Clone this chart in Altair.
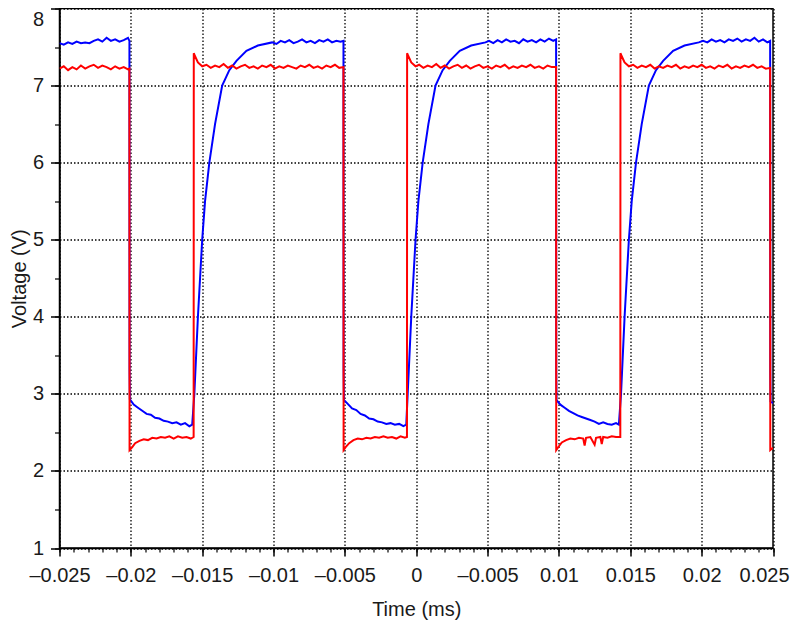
import json

import altair as alt
import pandas as pd

# ---- trace data ----
blue_t = [
    -0.025, -0.0247, -0.0244, -0.0241, -0.0238, -0.0235, -0.0232, -0.0229, -0.0226, -0.0223,
    -0.022, -0.0217, -0.0214, -0.0211, -0.0208, -0.0205, -0.0202, -0.0201,
    -0.02009, -0.02007, -0.0198, -0.0195, -0.0192, -0.0189, -0.0186, -0.0183, -0.018, -0.0177,
    -0.0174, -0.0171, -0.0168, -0.0165, -0.0162, -0.0159, -0.0157,
    -0.01555, -0.0153, -0.015, -0.0148, -0.0145, -0.0141, -0.0136, -0.0131, -0.0126, -0.0119,
    -0.0111, -0.0101, -0.0098, -0.0095, -0.0092, -0.0089, -0.0086, -0.0083, -0.008, -0.0077,
    -0.0074, -0.0071, -0.0068, -0.0065, -0.0062, -0.0059, -0.0056, -0.0053, -0.0051,
    -0.00509, -0.00507, -0.0048, -0.0045, -0.0042, -0.0039, -0.0036, -0.0033, -0.003, -0.0027,
    -0.0024, -0.0021, -0.0018, -0.0015, -0.0012, -0.0009, -0.0007,
    -0.0006, -0.00035, -0.00005, 0.00015, 0.00045, 0.00085, 0.00135, 0.00185, 0.00235, 0.00305,
    0.00385, 0.00485, 0.0051, 0.0054, 0.0057, 0.006, 0.0063, 0.0066, 0.0069, 0.0072, 0.0075,
    0.0078, 0.0081, 0.0084, 0.0087, 0.009, 0.0093, 0.0096, 0.0098,
    0.00981, 0.00983, 0.0101, 0.0104, 0.0107, 0.011, 0.0113, 0.0116, 0.0119, 0.0122, 0.0125,
    0.0128, 0.0131, 0.0134, 0.0137, 0.014, 0.0142,
    0.01435, 0.0146, 0.0149, 0.0151, 0.0154, 0.0158, 0.0163, 0.0168, 0.0173, 0.018, 0.0188,
    0.0198, 0.0201, 0.0204, 0.0207, 0.021, 0.0213, 0.0216, 0.0219, 0.0222, 0.0225, 0.0228,
    0.0231, 0.0234, 0.0237, 0.024, 0.0243, 0.0246, 0.0248,
    0.02481, 0.02483, 0.025,
]
blue_v = [
    7.55, 7.53, 7.56, 7.54, 7.57, 7.55, 7.56, 7.55, 7.58, 7.60,
    7.57, 7.62, 7.58, 7.60, 7.57, 7.59, 7.62, 7.58,
    3.30, 2.93, 2.86, 2.82, 2.78, 2.74, 2.73, 2.69, 2.68, 2.65,
    2.64, 2.62, 2.63, 2.60, 2.62, 2.58, 2.60,
    3.00, 4.00, 5.00, 5.50, 6.00, 6.50, 7.00, 7.20, 7.32, 7.45,
    7.52, 7.56, 7.54, 7.58, 7.56, 7.59, 7.55, 7.57, 7.60, 7.56,
    7.58, 7.55, 7.59, 7.57, 7.60, 7.56, 7.58, 7.57, 7.58,
    3.30, 2.92, 2.87, 2.81, 2.79, 2.74, 2.72, 2.68, 2.67, 2.64,
    2.63, 2.61, 2.62, 2.60, 2.61, 2.58, 2.60,
    3.00, 4.00, 5.00, 5.50, 6.00, 6.50, 7.00, 7.20, 7.32, 7.45,
    7.52, 7.56, 7.58, 7.55, 7.59, 7.56, 7.60, 7.57, 7.58, 7.55, 7.60,
    7.57, 7.59, 7.56, 7.60, 7.57, 7.61, 7.58, 7.60,
    3.30, 2.92, 2.86, 2.82, 2.78, 2.75, 2.72, 2.70, 2.68, 2.66, 2.64,
    2.61, 2.63, 2.61, 2.60, 2.62, 2.60,
    3.00, 4.00, 5.00, 5.50, 6.00, 6.50, 7.00, 7.20, 7.32, 7.45, 7.52,
    7.56, 7.58, 7.56, 7.60, 7.57, 7.59, 7.56, 7.60, 7.58, 7.61, 7.57,
    7.60, 7.58, 7.62, 7.57, 7.60, 7.56, 7.58,
    3.30, 2.90, 2.88,
]

red_t = [
    -0.025, -0.0247, -0.0244, -0.0241, -0.0238, -0.0235, -0.0232, -0.0229, -0.0226, -0.0223,
    -0.022, -0.0217, -0.0214, -0.0211, -0.0208, -0.0205, -0.0202, -0.0201,
    -0.02009, -0.0199, -0.0197, -0.0194, -0.0191, -0.0188, -0.0185, -0.0182, -0.0179, -0.0176,
    -0.0173, -0.017, -0.0167, -0.0164, -0.0161, -0.0158, -0.0156,
    -0.01559, -0.0155, -0.0153, -0.015, -0.0147, -0.0144, -0.0141, -0.0138, -0.0135, -0.0132,
    -0.0129, -0.0126, -0.0123, -0.012, -0.0117, -0.0114, -0.0111, -0.0108, -0.0105, -0.0102,
    -0.0099, -0.0096, -0.0093, -0.009, -0.0087, -0.0084, -0.0081, -0.0078, -0.0075, -0.0072,
    -0.0069, -0.0066, -0.0063, -0.006, -0.0057, -0.0054, -0.0051,
    -0.00509, -0.0049, -0.0047, -0.0044, -0.0041, -0.0038, -0.0035, -0.0032, -0.0029, -0.0026,
    -0.0023, -0.002, -0.0017, -0.0014, -0.0011, -0.0008, -0.00065,
    -0.00064, -0.00055, -0.00035, -0.00005, 0.0002, 0.0005, 0.0008, 0.0011, 0.0014, 0.0017,
    0.002, 0.0023, 0.0026, 0.0029, 0.0032, 0.0035, 0.0038, 0.0041, 0.0044, 0.0047,
    0.005, 0.0053, 0.0056, 0.0059, 0.0062, 0.0065, 0.0068, 0.0071, 0.0074, 0.0077,
    0.008, 0.0083, 0.0086, 0.0089, 0.0092, 0.0095, 0.0098,
    0.00981, 0.01, 0.0102, 0.0105, 0.0108, 0.0111, 0.0114, 0.0117, 0.0118, 0.0119,
    0.0122, 0.0125, 0.0126, 0.0129, 0.013, 0.0131, 0.0134, 0.0137, 0.014, 0.0143,
    0.01431, 0.0144, 0.0146, 0.0149, 0.0152, 0.0155, 0.0158, 0.0161, 0.0164, 0.0167,
    0.017, 0.0173, 0.0176, 0.0179, 0.0182, 0.0185, 0.0188, 0.0191, 0.0194, 0.0197,
    0.02, 0.0203, 0.0206, 0.0209, 0.0212, 0.0215, 0.0218, 0.0221, 0.0224, 0.0227,
    0.023, 0.0233, 0.0236, 0.0239, 0.0242, 0.0245, 0.0248,
    0.02481, 0.025,
]
red_v = [
    7.22, 7.25, 7.20, 7.24, 7.21, 7.26, 7.22, 7.25, 7.27, 7.23,
    7.26, 7.24, 7.21, 7.25, 7.22, 7.24, 7.21, 7.22,
    2.27, 2.31, 2.36, 2.39, 2.41, 2.40, 2.43, 2.42, 2.44, 2.43,
    2.45, 2.42, 2.45, 2.43, 2.44, 2.42, 2.44,
    7.42, 7.38, 7.30, 7.25, 7.27, 7.23, 7.26, 7.24, 7.28, 7.23,
    7.26, 7.22, 7.25, 7.27, 7.23, 7.25, 7.22, 7.26, 7.24, 7.27,
    7.22, 7.25, 7.23, 7.26, 7.24, 7.22, 7.26, 7.24, 7.27, 7.23,
    7.25, 7.22, 7.26, 7.24, 7.27, 7.23, 7.24,
    2.27, 2.32, 2.36, 2.40, 2.42, 2.41, 2.43, 2.42, 2.44, 2.43,
    2.45, 2.43, 2.44, 2.42, 2.45, 2.43, 2.44,
    7.42, 7.38, 7.30, 7.25, 7.27, 7.23, 7.26, 7.24, 7.28, 7.23,
    7.26, 7.22, 7.25, 7.27, 7.23, 7.26, 7.22, 7.25, 7.27, 7.23,
    7.25, 7.22, 7.26, 7.24, 7.27, 7.22, 7.25, 7.23, 7.26, 7.24,
    7.27, 7.23, 7.25, 7.22, 7.26, 7.24, 7.24,
    2.27, 2.32, 2.37, 2.40, 2.42, 2.41, 2.43, 2.42, 2.33, 2.43,
    2.44, 2.34, 2.43, 2.44, 2.35, 2.44, 2.43, 2.45, 2.44, 2.44,
    7.42, 7.38, 7.30, 7.25, 7.27, 7.23, 7.26, 7.24, 7.27, 7.22,
    7.25, 7.23, 7.26, 7.24, 7.27, 7.22, 7.25, 7.23, 7.26, 7.24,
    7.27, 7.23, 7.25, 7.22, 7.26, 7.24, 7.27, 7.22, 7.25, 7.23,
    7.26, 7.24, 7.27, 7.23, 7.25, 7.22, 7.23,
    2.27, 2.30,
]

# ---- axis ticks ----
x_ticks = [-0.025, -0.02, -0.015, -0.01, -0.005, 0, 0.005, 0.01, 0.015, 0.02, 0.025]
# labels exactly as printed on the original (including its "–0.005" at +0.005)
x_tick_labels = ["–0.025", "–0.02", "–0.015", "–0.01", "–0.005", "0", "–0.005",
                 "0.01", "0.015", "0.02", "0.025"]
x_minor = [round(-0.025 + i * 0.001, 4) for i in range(51)]
y_ticks = [1, 2, 3, 4, 5, 6, 7, 8]
y_minor = [1 + i * 0.5 for i in range(15)]

FONT = "Liberation Sans"
TEXT = "#1a1a1a"

blue_df = pd.DataFrame({"t": blue_t, "v": blue_v})
red_df = pd.DataFrame({"t": red_t, "v": red_v})

x_scale = alt.Scale(domain=[-0.025, 0.025], nice=False, zero=False)
y_scale = alt.Scale(domain=[1, 8], nice=False, zero=False)

label_expr = f"{json.dumps(x_tick_labels, ensure_ascii=False)}[round((datum.value + 0.025) / 0.005)]"

main_x_axis = alt.Axis(
    values=x_ticks, labelExpr=label_expr, orient="bottom", title="Time (ms)",
    grid=True, gridColor="black", gridDash=[1.5, 2], gridWidth=1.3,
    tickSize=8, tickColor="black", tickWidth=1.5,
    domainColor="black", domainWidth=1.5,
    labelFont=FONT, labelFontSize=20, labelColor=TEXT, labelPadding=9,
    labelFlush=False,
    # last label pulled in a little so it stays on the page
    labelOffset=alt.condition("datum.value > 0.024", alt.value(-9), alt.value(0)),
    titleFont=FONT, titleFontSize=20, titleFontWeight="normal", titleColor=TEXT,
    titlePadding=14,
)
main_y_axis = alt.Axis(
    values=y_ticks, orient="left", title="Voltage (V)",
    grid=True, gridColor="black", gridDash=[1.5, 2], gridWidth=1.3,
    tickSize=9, tickColor="black", tickWidth=1.5,
    domainColor="black", domainWidth=1.5,
    labelFont=FONT, labelFontSize=20, labelColor=TEXT, labelPadding=7,
    labelFlush=False,
    # top label nudged down so it is not cut by the page edge
    labelOffset=alt.condition("datum.value > 7.9", alt.value(11), alt.value(0)),
    titleFont=FONT, titleFontSize=20, titleFontWeight="normal", titleColor=TEXT,
    titlePadding=3,
)

blue_line = alt.Chart(blue_df).mark_line(color="#0000ff", strokeWidth=2, clip=True).encode(
    x=alt.X("t:Q", scale=x_scale, axis=main_x_axis),
    y=alt.Y("v:Q", scale=y_scale, axis=main_y_axis),
    order="t:Q",
)

red_line = alt.Chart(red_df).mark_line(color="#ff0000", strokeWidth=2, clip=True).encode(
    x=alt.X("t:Q", scale=x_scale, axis=None),
    y=alt.Y("v:Q", scale=y_scale, axis=None),
    order="t:Q",
)

# invisible layer that only carries the minor tick marks
minor_ticks = alt.Chart(blue_df).mark_point(opacity=0).encode(
    x=alt.X("t:Q", scale=x_scale, axis=alt.Axis(
        values=x_minor, orient="bottom", labels=False, grid=False, domain=False,
        tickSize=4, tickColor="black", tickWidth=1.2, title=None)),
    y=alt.Y("v:Q", scale=y_scale, axis=alt.Axis(
        values=y_minor, orient="left", labels=False, grid=False, domain=False,
        tickSize=5, tickColor="black", tickWidth=1.2, title=None)),
)

chart = (
    alt.layer(blue_line, red_line, minor_ticks)
    .resolve_axis(x="independent", y="independent")
    .properties(
        width=713.5,
        height=539.5,
        autosize=alt.AutoSizeParams(type="none"),
        padding={"left": 51.5, "top": 0.5, "right": 19, "bottom": 72},
        background="white",
    )
    .configure_view(stroke="black", strokeWidth=1.5)
)

chart.save("out.html", embed_options={"renderer": "svg", "actions": False})
